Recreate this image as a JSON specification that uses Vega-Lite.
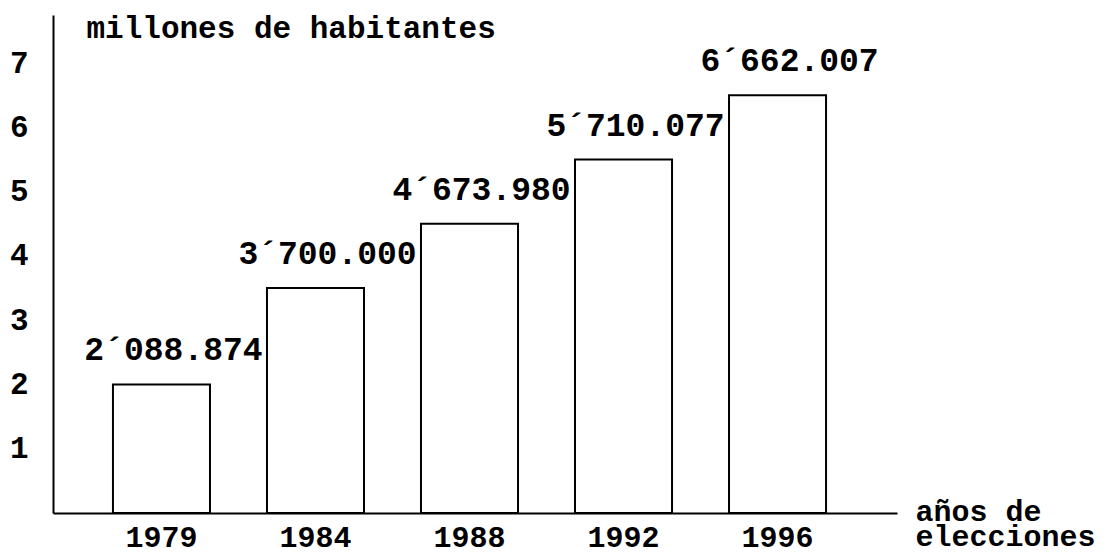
{
  "$schema": "https://vega.github.io/schema/vega-lite/v6.json",
  "width": 844,
  "height": 498,
  "autosize": {"type": "none"},
  "padding": {"left": 53, "top": 15, "right": 213, "bottom": 41},
  "background": "white",
  "config": {
    "view": {"stroke": null},
    "font": "Liberation Mono",
    "axis": {
      "domainColor": "black",
      "domainWidth": 2,
      "ticks": false,
      "grid": false,
      "labelFont": "Liberation Mono",
      "labelFontSize": 31,
      "labelFontWeight": "bold",
      "labelColor": "black",
      "titleFont": "Liberation Mono",
      "titleFontSize": 31,
      "titleFontWeight": "bold",
      "titleColor": "black"
    }
  },
  "data": {
    "values": [
      {"anio": "1979", "millones": 2.0, "etiqueta": "2´088.874"},
      {"anio": "1984", "millones": 3.5, "etiqueta": "3´700.000"},
      {"anio": "1988", "millones": 4.5, "etiqueta": "4´673.980"},
      {"anio": "1992", "millones": 5.5, "etiqueta": "5´710.077"},
      {"anio": "1996", "millones": 6.5, "etiqueta": "6´662.007"}
    ]
  },
  "encoding": {
    "x": {
      "field": "anio",
      "type": "nominal",
      "sort": null,
      "scale": {"paddingInner": 0.37, "paddingOuter": 0.425, "align": 0.458},
      "axis": {
        "labelAngle": 0,
        "labelFontSize": 30,
        "labelPadding": 9,
        "title": ["años de", "elecciones"],
        "titleFontSize": 30,
        "titleAlign": "left",
        "titleAnchor": "start",
        "titleX": 862,
        "titleY": 7,
        "titleBaseline": "alphabetic",
        "titleLineHeight": 25
      }
    },
    "y": {
      "field": "millones",
      "type": "quantitative",
      "scale": {"domain": [0, 7.75], "nice": false},
      "axis": {
        "values": [1, 2, 3, 4, 5, 6, 7],
        "labelPadding": 25,
        "title": "millones de habitantes",
        "titleAngle": 0,
        "titleAlign": "left",
        "titleAnchor": "start",
        "titleX": 33,
        "titleY": 22,
        "titleBaseline": "alphabetic"
      }
    }
  },
  "layer": [
    {
      "mark": {"type": "bar", "fill": "white", "stroke": "black", "strokeWidth": 2}
    },
    {
      "mark": {
        "type": "text",
        "font": "Liberation Mono",
        "fontSize": 33,
        "fontWeight": "bold",
        "color": "black",
        "align": "center",
        "baseline": "middle",
        "dx": 12,
        "dy": -34
      },
      "encoding": {"text": {"field": "etiqueta"}}
    }
  ]
}
